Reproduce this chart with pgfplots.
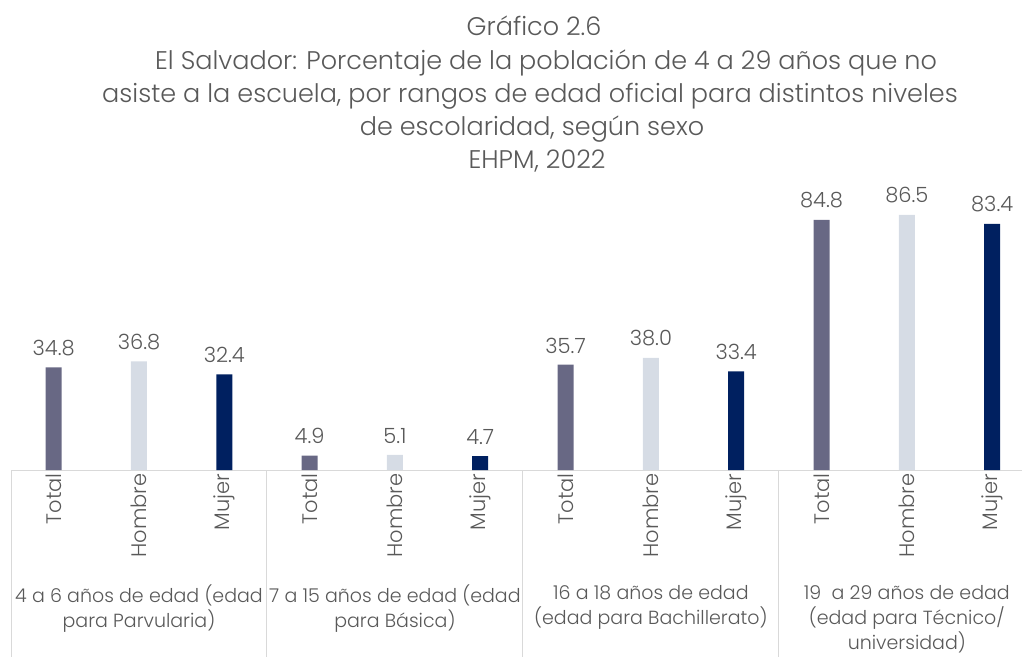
\documentclass[border=0pt]{standalone}
\usepackage{pgfplots}
\pgfplotsset{compat=1.18}
\usepackage{fontspec}
\setmainfont{Poppins}[UprightFont={* Light}]
\definecolor{txt}{HTML}{595959}
\definecolor{cTotal}{HTML}{686884}
\definecolor{cHombre}{HTML}{D6DCE5}
\definecolor{cMujer}{HTML}{002060}
\definecolor{sep}{HTML}{D9D9D9}
\begin{document}
\begin{tikzpicture}[x=1pt,y=1pt]
\useasboundingbox (0,0) rectangle (1022,656);
\tikzset{ttl/.style={anchor=base, inner sep=0pt, font=\fontsize{25.5}{33}\selectfont, text=txt}}
\node[ttl] at (534,620) {Gráfico 2.6};
\node[ttl] at (546,586) {El Salvador: Porcentaje de la población de 4 a 29 años que no};
\node[ttl] at (530,553) {asiste a la escuela, por rangos de edad oficial para distintos niveles};
\node[ttl] at (532,520) {de escolaridad, según sexo};
\node[ttl] at (537,487) {EHPM, 2022};
\begin{axis}[
  at={(11pt,186pt)}, anchor=south west,
  scale only axis, width=1011pt, height=295pt,
  xmin=-0.5, xmax=11.35, ymin=0, ymax=100,
  axis y line=none, axis x line*=bottom,
  x axis line style={draw=sep, line width=1pt, -},
  clip=false,
  ybar, bar width=16pt, bar shift=0pt,
  xtick={0,1,2,3,4,5,6,7,8,9,10,11},
  xticklabels={Total,Hombre,Mujer,Total,Hombre,Mujer,Total,Hombre,Mujer,Total,Hombre,Mujer},
  major tick length=0pt,
  xticklabel style={rotate=90, anchor=east, font=\fontsize{21}{24}\selectfont, text=txt},
  nodes near coords,
  nodes near coords style={font=\fontsize{21}{24}\selectfont, text=txt, yshift=8pt, /pgf/number format/fixed, /pgf/number format/precision=1, /pgf/number format/fixed zerofill, /pgf/number format/assume math mode=true},
]
\addplot[fill=cTotal, draw=none] coordinates {(0,34.8) (3,4.9) (6,35.7) (9,84.8)};
\addplot[fill=cHombre, draw=none] coordinates {(1,36.8) (4,5.1) (7,38.0) (10,86.5)};
\addplot[fill=cMujer, draw=none] coordinates {(2,32.4) (5,4.7) (8,33.4) (11,83.4)};
\foreach \s in {-0.5,2.5,5.5,8.5}{
  \edef\tmp{\noexpand\draw[sep, line width=1pt] (axis cs:\s,0) -- ++(0pt,-190pt);}\tmp
}
\node[anchor=north, inner sep=0pt, align=center, font=\fontsize{19}{25}\selectfont, text=txt] at ([yshift=-115pt]axis cs:1,0) {4 a 6 años de edad (edad\\para Parvularia)};
\node[anchor=north, inner sep=0pt, align=center, font=\fontsize{19}{25}\selectfont, text=txt] at ([yshift=-115pt]axis cs:4,0) {7 a 15 años de edad (edad\\para Básica)};
\node[anchor=north, inner sep=0pt, align=center, font=\fontsize{19}{25}\selectfont, text=txt] at ([yshift=-115pt]axis cs:7,0) {16 a 18 años de edad\\(edad para Bachillerato)};
\node[anchor=north, inner sep=0pt, align=center, font=\fontsize{19}{25}\selectfont, text=txt] at ([yshift=-115pt]axis cs:10,0) {19\ \ a 29 años de edad\\(edad para Técnico/\\universidad)};
\end{axis}
\end{tikzpicture}
\end{document}
